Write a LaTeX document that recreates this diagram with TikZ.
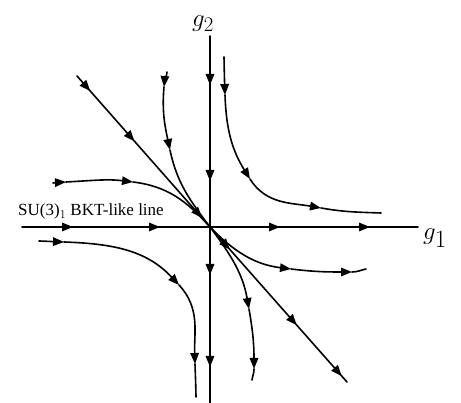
\documentclass[tikz,border=0pt]{standalone}
\usepackage{fontspec}
\setmainfont{Liberation Serif}
\usetikzlibrary{arrows.meta,decorations.markings}
\tikzset{
  flow/.style={line width=1.6pt, line cap=round, line join=round},
  ma/.style={postaction={decorate,decoration={markings,
    mark=at position #1 with {\arrow{Triangle[length=11pt,width=8.5pt]}}}}},
  tipend/.style={-{Triangle[length=11pt,width=8.5pt]}},
  axlabel/.style={anchor=base west, inner sep=0pt},
}
\begin{document}
\begin{tikzpicture}[x=1pt,y=1pt]
\useasboundingbox (0,0) rectangle (461,403);
\coordinate (O) at (210,176);
% axes
\coordinate (xl) at (22,176);
\coordinate (xr) at (418,176);
\coordinate (yt) at (210,367);
\coordinate (yb) at (210,0);
\draw[flow, ma=51pt, ma=138pt, ma=258pt, ma=348pt] (xl) -- (xr);
\draw[flow, ma=49pt, ma=145pt, ma=239pt, ma=331pt] (yt) -- (yb);
\node[axlabel] (g1) at (423,163) {\fontsize{36}{36}\selectfont$g_1$};
\node[axlabel] (g2) at (192,376) {\fontsize{32}{32}\selectfont$g_2$};
% diagonal separatrix
\coordinate (d1) at (77,327);
\coordinate (d2) at (347,21);
\draw[flow, ma=20pt, ma=87pt, ma=189pt] (d1) -- (O);
\draw[flow, ma=30pt, ma=131pt, ma=199pt] (O) -- (d2);
% C1 upper-left, bending into origin
\draw[flow,tipend] (167,331) to[out=265,in=85] (164,316);
\draw[flow,tipend] (164,316) to[out=265,in=102] (170,253);
\draw[flow] (170,253) to[out=282,in=127] (O);
% C2 upper-right hyperbola
\draw[flow,tipend] (224,346) to[out=271,in=92] (225,308);
\draw[flow,tipend] (225,308) to[out=272,in=122] (250,224);
\draw[flow,tipend] (250,224) to[out=302,in=170] (321,195);
\draw[flow] (321,195) to[out=350,in=178] (381,190);
% C3 left, into origin
\draw[flow,tipend] (53,220) to[out=3,in=183] (66,221);
\draw[flow,tipend] (66,221) to[out=3,in=173] (133,221);
\draw[flow] (133,221) to[out=-7,in=132] (O);
% C4 lower-left hyperbola
\draw[flow,tipend] (39,162) to[out=-2,in=178] (64,161);
\draw[flow,tipend] (64,161) to[out=-2,in=133] (179,118);
\draw[flow,tipend] (179,118) to[out=-47,in=92] (195,39);
\draw[flow] (195,39) to[out=-88,in=91] (196,6);
% C5 lower-right, out of origin
\draw[flow,tipend] (O) to[out=-46,in=173] (291,134);
\draw[flow,tipend] (291,134) to[out=-7,in=180] (352,131);
\draw[flow] (352,131) to[out=0,in=192] (366,134);
% C6 lower, out of origin
\draw[flow,tipend] (O) to[out=-53,in=100] (249,94);
\draw[flow,tipend] (249,94) to[out=-80,in=90] (254,34);
\draw[flow] (254,34) to[out=-90,in=82] (252,23);
\node[anchor=base, font=\fontsize{17}{17}\selectfont] (lbl) at (91,187) {SU(3)$_1$ BKT-like line};
\end{tikzpicture}
\end{document}
